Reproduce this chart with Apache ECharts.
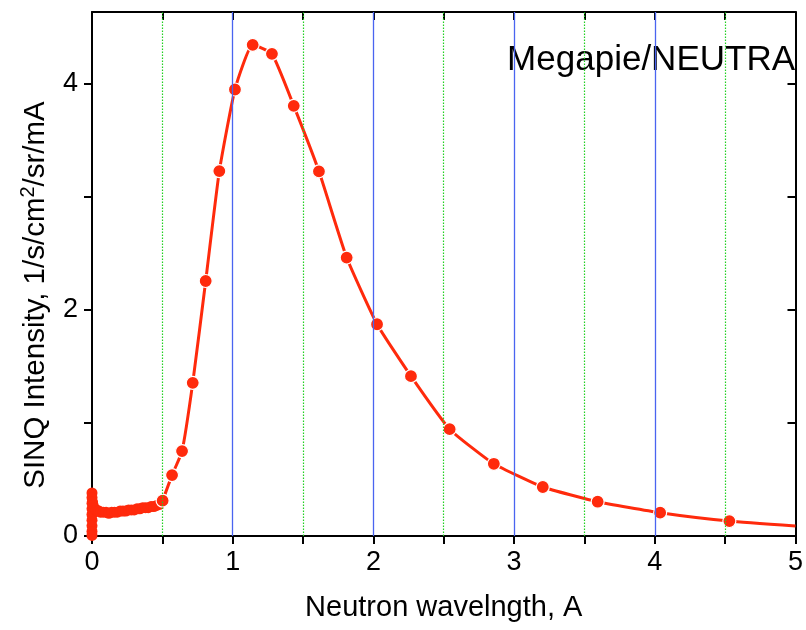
<!DOCTYPE html>
<html>
<head>
<meta charset="utf-8">
<script src="https://cdn.jsdelivr.net/npm/echarts@6/dist/echarts.min.js"></script>
<style>
  html, body { margin: 0; padding: 0; background: #fff; }
  #chart { width: 806px; height: 630px; }
</style>
</head>
<body>
<div id="chart"></div>
<script>
// Low-wavelength part of the spectrum (dense measured points, spread at λ≈0)
const lowWavelength = [0, 0, 0, 0, 0, 0, 0, 0, 0, 0.004, 0.008, 0.012, 0.02, 0.03, 0.04, 0.05, 0.06, 0.08, 0.10, 0.12, 0.14,
  0.16, 0.18, 0.20, 0.22, 0.24, 0.26, 0.28, 0.30, 0.32, 0.34, 0.36, 0.38, 0.40, 0.42, 0.44, 0.46, 0.48, 0.502];
const lowIntensity = [0.38, 0.34, 0.29, 0.24, 0.19, 0.14, 0.09, 0.04, 0.005, 0.30, 0.27, 0.25, 0.24, 0.23, 0.22, 0.22, 0.21, 0.21, 0.21, 0.20, 0.21,
  0.21, 0.21, 0.22, 0.22, 0.22, 0.23, 0.23, 0.23, 0.24, 0.24, 0.25, 0.25, 0.25, 0.26, 0.26, 0.27, 0.28, 0.312];

// Main spectrum points
const wavelength = [0.502, 0.569, 0.640, 0.716, 0.808, 0.905, 1.016, 1.142, 1.279, 1.434, 1.613,
  1.810, 2.026, 2.267, 2.542, 2.856, 3.204, 3.594, 4.038, 4.530, 5.0];
const intensity = [0.312, 0.538, 0.750, 1.353, 2.253, 3.224, 3.945, 4.340, 4.260, 3.801, 3.222,
  2.460, 1.871, 1.412, 0.944, 0.638, 0.433, 0.303, 0.206, 0.132, 0.088];
// the curve runs on to the edge of the plot without a marker at its last point
const lastPointHasMarker = false;

const xTicks = [0, 0.5, 1, 1.5, 2, 2.5, 3, 3.5, 4, 4.5, 5];
const xLabels = [0, 1, 2, 3, 4, 5];
const yTicks = [0, 1, 2, 3, 4];
const yLabels = [0, 2, 4];
const blueGrid = [1, 2, 3, 4];
const greenGrid = [0.5, 1.5, 2.5, 3.5, 4.5];

const FONT = '"Liberation Sans", Arial, sans-serif';
const RED = '#ff2a0c';

const chart = echarts.init(document.getElementById('chart'), null, { renderer: 'canvas' });

const lowData = lowWavelength.map((x, i) => [x, lowIntensity[i]]);
const mainData = wavelength.map((x, i) => {
  const item = { value: [x, intensity[i]] };
  if (i === wavelength.length - 1 && !lastPointHasMarker) item.symbol = 'none';
  return item;
});

const frameAxis = {
  type: 'value', min: 0, max: 5,
  axisLine: { show: true, onZero: false, lineStyle: { color: '#000', width: 2 } },
  splitLine: { show: false }
};

function gridLines(values, style) {
  return {
    type: 'line', data: [], silent: true, z: 1,
    markLine: {
      symbol: 'none', silent: true, animation: false,
      label: { show: false },
      lineStyle: style,
      emphasis: { disabled: true },
      data: values.map(v => ({ xAxis: v }))
    }
  };
}

const option = {
  backgroundColor: '#fff',
  animation: false,
  grid: { left: 92, right: 9, top: 12, bottom: 94, containLabel: false },
  graphic: [
    {
      type: 'text', right: 11, top: 43,
      style: { text: 'Megapie/NEUTRA', fontSize: 35, fontFamily: FONT, fill: '#000' }
    },
    {
      type: 'text', x: 36, y: 295, rotation: Math.PI / 2,
      style: {
        text: 'SINQ Intensity, 1/s/cm{sup|2}/sr/mA',
        fontSize: 29.5, fontFamily: FONT, fill: '#000',
        align: 'center', verticalAlign: 'middle', lineHeight: 36,
        rich: { sup: { fontSize: 20, fontFamily: FONT, fill: '#000', verticalAlign: 'top', lineHeight: 36 } }
      }
    }
  ],
  xAxis: [
    Object.assign({}, frameAxis, {
      position: 'bottom',
      name: 'Neutron wavelngth, A', nameLocation: 'middle', nameGap: 57,
      nameTextStyle: { fontSize: 29, fontFamily: FONT, color: '#000' },
      axisTick: { show: true, inside: false, length: 8, customValues: xTicks, lineStyle: { color: '#000', width: 2 } },
      axisLabel: { show: true, margin: 13, customValues: xLabels, fontSize: 27, fontFamily: FONT, color: '#000' }
    }),
    Object.assign({}, frameAxis, {
      position: 'top',
      axisTick: { show: true, inside: true, length: 8, customValues: xTicks, lineStyle: { color: '#000', width: 2 } },
      axisLabel: { show: false }
    })
  ],
  yAxis: [
    {
      type: 'value', min: 0, max: 4.63, position: 'left',
      axisLine: { show: true, onZero: false, lineStyle: { color: '#000', width: 2 } },
      axisTick: { show: true, inside: false, length: 8, customValues: yTicks, lineStyle: { color: '#000', width: 2 } },
      axisLabel: { show: true, margin: 14, customValues: yLabels, fontSize: 27, fontFamily: FONT, color: '#000' },
      splitLine: { show: false }
    },
    {
      type: 'value', min: 0, max: 4.63, position: 'right',
      axisLine: { show: true, onZero: false, lineStyle: { color: '#000', width: 2 } },
      axisTick: { show: true, inside: true, length: 8, customValues: yTicks, lineStyle: { color: '#000', width: 2 } },
      axisLabel: { show: false },
      splitLine: { show: false }
    }
  ],
  series: [
    // vertical grid lines: dotted green at half units, solid blue at whole units
    gridLines(greenGrid, { color: '#22d022', type: [1.5, 1.5], width: 1.2 }),
    gridLines(blueGrid, { color: '#4a64f0', type: 'solid', width: 1.3 }),
    {
      type: 'line', data: lowData, z: 3,
      symbol: 'circle', symbolSize: 11,
      lineStyle: { color: RED, width: 3 },
      itemStyle: { color: RED }
    },
    {
      type: 'line', data: mainData, z: 4, smooth: 0.15,
      symbol: 'circle', symbolSize: 13,
      lineStyle: { color: RED, width: 3 },
      itemStyle: { color: RED, borderColor: '#fff', borderWidth: 1.2 }
    }
  ]
};

chart.setOption(option);
</script>
</body>
</html>
